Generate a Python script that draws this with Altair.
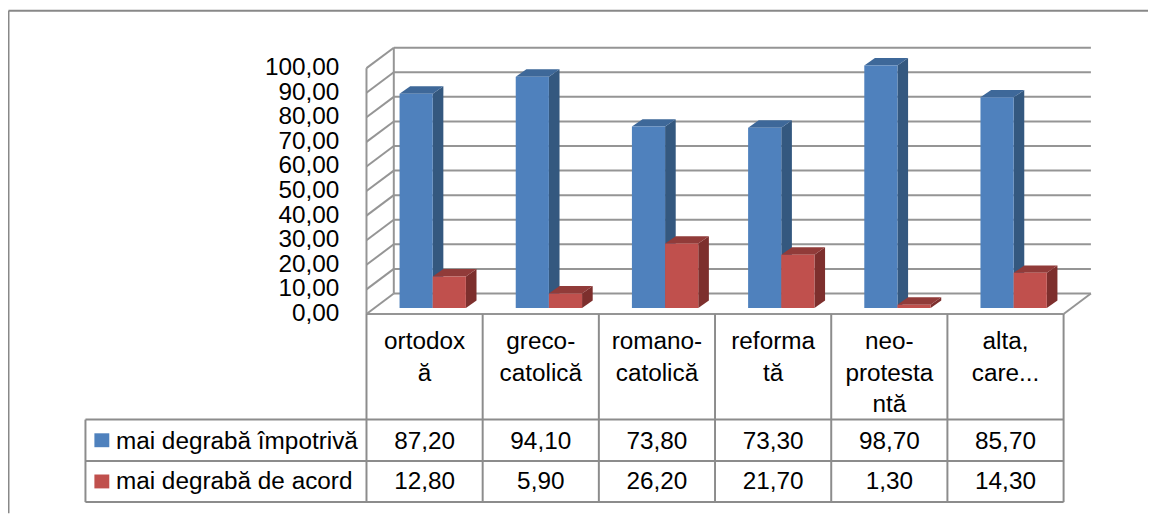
import altair as alt
import pandas as pd

# ---------------- data ----------------
categories = ["ortodoxă", "greco-catolică", "romano-catolică", "reformată", "neo-protestantă", "alta, care..."]
category_lines = [["ortodox", "ă"], ["greco-", "catolică"], ["romano-", "catolică"],
                  ["reforma", "tă"], ["neo-", "protesta", "ntă"], ["alta,", "care..."]]
series = ["mai degrabă împotrivă", "mai degrabă de acord"]
impotriva = [87.20, 94.10, 73.80, 73.30, 98.70, 85.70]
acord = [12.80, 5.90, 26.20, 21.70, 1.30, 14.30]
y_ticks = [0, 10, 20, 30, 40, 50, 60, 70, 80, 90, 100]

# ---------------- style / geometry ----------------
FONT = "Liberation Sans"
FS = 24.5
PX_X = 117.0          # pixels per category
PX_Y = 2.475          # pixels per value unit
ORIGIN_X = 369.0      # page x of the front value axis
ORIGIN_Y = 314.3      # page y of the front zero line
PAD_LEFT = ORIGIN_X - 8
W = 1148 - PAD_LEFT
H = 507
N = len(categories)

def ux(px):
    return px / PX_X

def uy(px):
    return px / PX_Y

def gx(page_x):
    return (page_x - ORIGIN_X) / PX_X

def gy(page_y):
    return (ORIGIN_Y - page_y) / PX_Y

wall_dx, wall_dy = ux(27.5), uy(20.6)
bar_off, bar_w = ux(33.3), ux(33.4)
bar_base = uy(6.0)
side_dx, side_dy = ux(10.7), uy(7.5)

front_cols = ["#4F81BD", "#C0504D"]
side_cols = ["#34587F", "#7D2F2D"]
top_cols = ["#3E6899", "#913B39"]
GRID = "#959595"
TABLE = "#8C8C8C"

xs = alt.Scale(domain=[0, W / PX_X], nice=False, zero=False)
ys = alt.Scale(domain=[gy(8 + H), gy(8)], nice=False, zero=False)

# ---------------- bars (3D faces) ----------------
fronts, sides, tops = [], [], []
for si, vals in enumerate([impotriva, acord]):
    for i, v in enumerate(vals):
        xl = i + bar_off + si * bar_w
        xr = xl + bar_w
        b = bar_base
        t = bar_base + v
        bid = f"{si}-{i}"
        fronts.append({"s": si, "x": xl, "x2": xr, "y": b, "y2": t})
        sides.append({"s": si, "id": bid, "x": xr, "y": b, "y2": t})
        sides.append({"s": si, "id": bid, "x": xr + side_dx, "y": b + side_dy, "y2": t + side_dy})
        tops.append({"s": si, "id": bid, "y": t, "x": xl, "x2": xr})
        tops.append({"s": si, "id": bid, "y": t + side_dy, "x": xl + side_dx, "x2": xr + side_dx})

fronts = pd.DataFrame(fronts)
sides = pd.DataFrame(sides)
tops = pd.DataFrame(tops)

layers = []

# ---------------- lines: walls, grid, floor, table ----------------
rules = []
for v in y_ticks:
    rules.append({"x": 0, "x2": wall_dx, "y": v, "y2": v + wall_dy, "c": GRID})
    rules.append({"x": wall_dx, "x2": N + wall_dx, "y": v + wall_dy, "y2": v + wall_dy, "c": GRID})
rules.append({"x": wall_dx, "x2": wall_dx, "y": wall_dy, "y2": 100 + wall_dy, "c": GRID})
rules.append({"x": N, "x2": N + wall_dx, "y": 0, "y2": wall_dy, "c": GRID})
rules.append({"x": 0, "x2": N, "y": 0, "y2": 0, "c": GRID})
rules.append({"x": 0, "x2": 0, "y": 0, "y2": 100, "c": GRID})

row_b = [gy(420.7), gy(462.5), gy(503.8)]
leg_left = gx(86)
for k in range(N + 1):
    rules.append({"x": k, "x2": k, "y": 0, "y2": row_b[2], "c": TABLE})
for yb in row_b:
    rules.append({"x": leg_left, "x2": N, "y": yb, "y2": yb, "c": TABLE})
rules.append({"x": leg_left, "x2": leg_left, "y": row_b[0], "y2": row_b[2], "c": TABLE})
# outer chart frame
rules.append({"x": gx(8.5), "x2": W / PX_X, "y": gy(9), "y2": gy(9), "c": "#888888"})
rules.append({"x": gx(8.5), "x2": gx(8.5), "y": gy(9), "y2": gy(8 + H), "c": "#888888"})
rules = pd.DataFrame(rules)

layers.append(alt.Chart(rules).mark_rule(strokeWidth=2).encode(
    x=alt.X("x:Q", scale=xs, axis=None),
    x2="x2:Q",
    y=alt.Y("y:Q", scale=ys, axis=None),
    y2="y2:Q",
    color=alt.Color("c:N", scale=None, legend=None),
))

# value axis labels on the front plane
ylab = pd.DataFrame({"y": y_ticks, "x": [gx(341.7)] * len(y_ticks),
                     "t": [f"{v:.2f}".replace(".", ",") for v in y_ticks]})
layers.append(alt.Chart(ylab).mark_text(font=FONT, fontSize=FS, color="black", align="right",
                                        baseline="middle").encode(
    x=alt.X("x:Q", scale=xs, axis=None), y=alt.Y("y:Q", scale=ys, axis=None), text="t:N"))

for si in range(2):
    layers.append(alt.Chart(sides[sides.s == si]).mark_area(orient="vertical", color=side_cols[si]).encode(
        x=alt.X("x:Q", scale=xs, axis=None),
        y=alt.Y("y:Q", scale=ys, axis=None, stack=None),
        y2="y2:Q",
        detail="id:N",
    ))
for si in range(2):
    layers.append(alt.Chart(tops[tops.s == si]).mark_area(orient="horizontal", color=top_cols[si]).encode(
        y=alt.Y("y:Q", scale=ys, axis=None),
        x=alt.X("x:Q", scale=xs, axis=None, stack=None),
        x2="x2:Q",
        detail="id:N",
    ))
for si in range(2):
    layers.append(alt.Chart(fronts[fronts.s == si]).mark_rect(color=front_cols[si]).encode(
        x=alt.X("x:Q", scale=xs, axis=None),
        x2="x2:Q",
        y=alt.Y("y:Q", scale=ys, axis=None),
        y2="y2:Q",
    ))

# ---------------- data table texts ----------------
head = pd.DataFrame({"x": [i + 0.5 for i in range(N)],
                     "y": [gy(350)] * N,
                     "t": ["\n".join(l) for l in category_lines]})
layers.append(alt.Chart(head).mark_text(font=FONT, fontSize=FS, color="black", align="center",
                                        baseline="alphabetic", lineBreak="\n", lineHeight=31.5).encode(
    x=alt.X("x:Q", scale=xs, axis=None), y=alt.Y("y:Q", scale=ys, axis=None), text="t:N"))

cells = []
for si, vals in enumerate([impotriva, acord]):
    for i, v in enumerate(vals):
        cells.append({"x": i + 0.5, "y": gy([450.5, 491.0][si]), "t": f"{v:.2f}".replace(".", ",")})
cells = pd.DataFrame(cells)
layers.append(alt.Chart(cells).mark_text(font=FONT, fontSize=FS, color="black", align="center",
                                         baseline="alphabetic").encode(
    x=alt.X("x:Q", scale=xs, axis=None), y=alt.Y("y:Q", scale=ys, axis=None), text="t:N"))

leg = pd.DataFrame({"x": [gx(116.7)] * 2, "y": [gy(450.5), gy(491.0)], "t": series,
                    "sx": [gx(95)] * 2, "sx2": [gx(110)] * 2,
                    "sy": [gy(434.5), gy(476)], "sy2": [gy(448.5), gy(490)],
                    "c": front_cols})
layers.append(alt.Chart(leg).mark_text(font=FONT, fontSize=FS, color="black", align="left",
                                       baseline="alphabetic").encode(
    x=alt.X("x:Q", scale=xs, axis=None), y=alt.Y("y:Q", scale=ys, axis=None), text="t:N"))
layers.append(alt.Chart(leg).mark_rect().encode(
    x=alt.X("sx:Q", scale=xs, axis=None), x2="sx2:Q",
    y=alt.Y("sy:Q", scale=ys, axis=None), y2="sy2:Q",
    color=alt.Color("c:N", scale=None, legend=None)))

chart = alt.layer(*layers).properties(
    width=W, height=H,
    padding={"left": PAD_LEFT, "top": 0, "right": 0, "bottom": 0},
    autosize=alt.AutoSizeParams(type="none"),
    background="white",
).configure_view(stroke=None)

chart.save("out.html", embed_options={"renderer": "svg", "actions": False})
